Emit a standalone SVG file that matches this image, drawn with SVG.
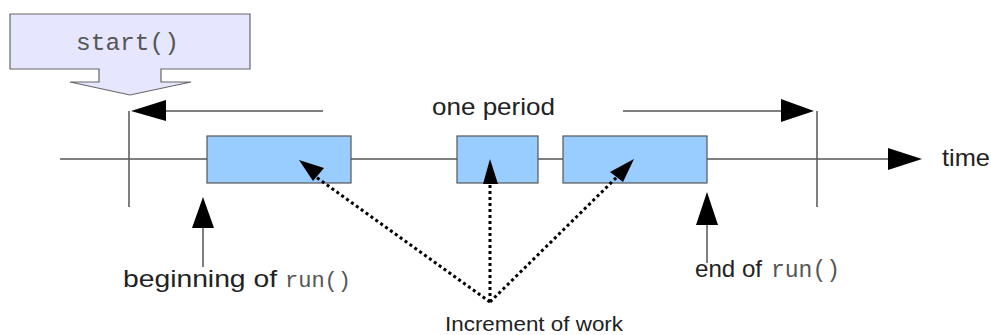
<svg xmlns="http://www.w3.org/2000/svg" width="991" height="335" viewBox="0 0 991 335">
<style>
.sans{font-family:"Liberation Sans",Arial,sans-serif;fill:#222}
.mono{font-family:"Liberation Mono","Courier New",monospace;fill:#555}
.ln{stroke:#555;stroke-width:1.5;fill:none}
.dot{stroke:#000;stroke-width:3;stroke-dasharray:3 3;fill:none}
.head{fill:#000}
.work{fill:#99ccff;stroke:#555;stroke-width:1.2}
</style>
<rect width="991" height="335" fill="#fff"/>
<g id="start">
<path d="M10,14 H250 V69 H161 V82 H191 L130,95 L70,82 H99 V69 H10 Z" fill="#e6e6ff" stroke="#666" stroke-width="1.2"/>
<text class="mono" x="76" y="50" font-size="24.5">start()</text>
</g>
<g id="connectors">
<line class="ln" x1="60" y1="159" x2="890" y2="159"/>
<polygon class="head" points="922,159 888,148 888,170"/>
<line class="ln" x1="129" y1="111" x2="129" y2="207"/>
<line class="ln" x1="817" y1="111" x2="817" y2="207"/>
<line class="ln" x1="164" y1="111" x2="323" y2="111"/>
<polygon class="head" points="131,111 166,100 166,121"/>
<line class="ln" x1="623" y1="111" x2="783" y2="111"/>
<polygon class="head" points="814,111 781,99 781,122"/>
<line class="ln" x1="203" y1="226" x2="203" y2="267"/>
<polygon class="head" points="203,197 192,228 214,228"/>
<line class="ln" x1="707" y1="223" x2="707" y2="263"/>
<polygon class="head" points="707,192 696,225 718,225"/>
</g>
<g id="work1"><rect class="work" x="207" y="136" width="144" height="47"/></g>
<g id="work2"><rect class="work" x="457" y="136" width="81" height="47"/></g>
<g id="work3"><rect class="work" x="563" y="136" width="144" height="47"/></g>
<g id="increments">
<path class="dot" d="M490,302 L316,177"/>
<polygon class="head" points="299,160 324,168 313,181"/>
<path class="dot" d="M490,302 L490,184"/>
<polygon class="head" points="490,159 483,184 498,184"/>
<path class="dot" d="M490,302 L617,177"/>
<polygon class="head" points="634,159 610,172 623,182"/>
</g>
<g id="labels">
<text class="sans" x="432" y="115" font-size="24" textLength="123" lengthAdjust="spacingAndGlyphs">one period</text>
<text class="sans" x="942" y="166" font-size="24" textLength="48" lengthAdjust="spacingAndGlyphs">time</text>
<text class="sans" x="123" y="287" font-size="24" textLength="154" lengthAdjust="spacingAndGlyphs">beginning of</text>
<text class="mono" x="285" y="287" font-size="22">run()</text>
<text class="sans" x="695" y="277" font-size="24" textLength="67" lengthAdjust="spacingAndGlyphs">end of</text>
<text class="mono" x="771" y="277" font-size="23">run()</text>
<text class="sans" x="445" y="331" font-size="20" textLength="178" lengthAdjust="spacingAndGlyphs">Increment of work</text>
</g>
</svg>
